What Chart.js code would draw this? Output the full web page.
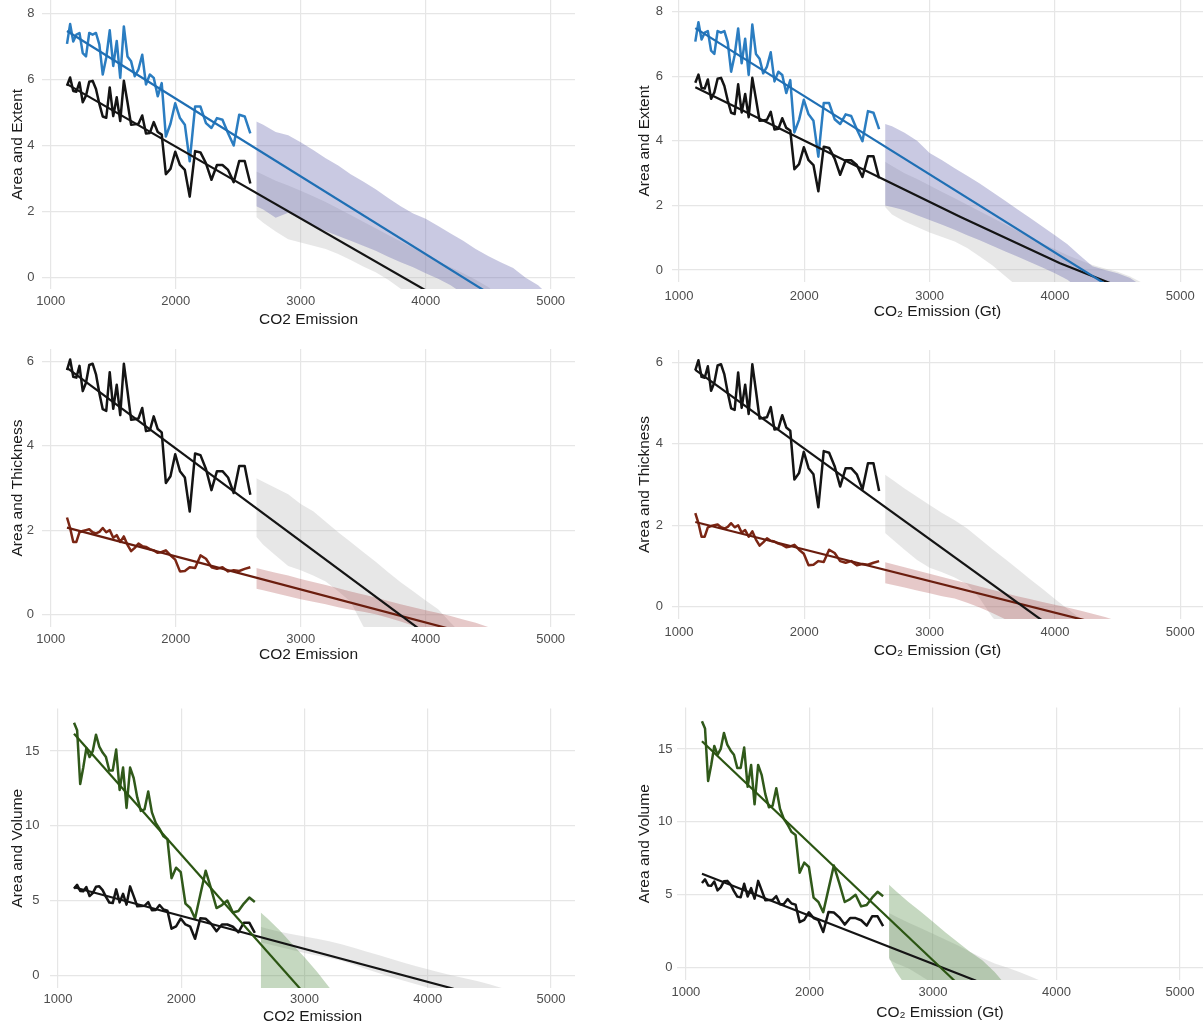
<!DOCTYPE html>
<html>
<head>
<meta charset="utf-8">
<script src="https://cdn.jsdelivr.net/npm/chart.js@4.4.1/dist/chart.umd.min.js"></script>
<style>
  body { margin: 0; background: #fff; width: 1203px; height: 1028px; position: relative; overflow: hidden; }
  canvas { position: absolute; }
</style>
</head>
<body>
<canvas id="p1" width="580" height="335" style="left:0;top:0"></canvas>
<canvas id="p2" width="583" height="330" style="left:620px;top:0"></canvas>
<canvas id="p3" width="580" height="335" style="left:0;top:340px"></canvas>
<canvas id="p4" width="583" height="330" style="left:620px;top:340px"></canvas>
<canvas id="p5" width="580" height="328" style="left:0;top:700px"></canvas>
<canvas id="p6" width="583" height="328" style="left:620px;top:700px"></canvas>
<script>
// observed series, one value per year 1979..2023, against cumulative CO2 emission
const emission = [1130, 1155, 1180, 1205, 1230, 1256, 1282, 1308, 1335, 1362, 1389, 1416, 1444, 1472, 1500,
  1528, 1556, 1585, 1614, 1643, 1672, 1702, 1732, 1762, 1793, 1824, 1856, 1888, 1921, 1958,
  1996, 2034, 2073, 2112, 2155, 2198, 2242, 2286, 2330, 2374, 2419, 2464, 2508, 2552, 2597];
const areaObs = [5.80, 6.05, 5.64, 5.62, 5.90, 5.30, 5.50, 5.92, 5.95, 5.70, 5.25, 4.87, 4.83, 5.75, 4.88,
  5.45, 4.73, 5.95, 5.30, 4.62, 4.63, 4.65, 4.90, 4.35, 4.37, 4.70, 4.40, 4.32, 3.12, 3.28,
  3.80, 3.40, 3.25, 2.44, 3.82, 3.78, 3.45, 2.95, 3.40, 3.40, 3.25, 2.88, 3.52, 3.52, 2.84];
const extentObs = [7.07, 7.67, 7.14, 7.35, 7.40, 6.79, 6.69, 7.40, 7.35, 7.40, 7.05, 6.14, 6.65, 7.48, 6.40,
  7.16, 6.04, 7.60, 6.69, 6.54, 6.09, 6.30, 6.74, 5.84, 6.14, 6.04, 5.48, 5.88, 4.26, 4.65,
  5.27, 4.82, 4.62, 3.51, 5.17, 5.17, 4.67, 4.52, 4.82, 4.77, 4.36, 3.99, 4.92, 4.87, 4.36];
const thicknessObs = [2.30, 2.05, 1.72, 1.72, 1.95, 1.98, 2.00, 2.02, 1.95, 1.92, 1.96, 2.05, 1.95, 2.00, 1.82,
  1.88, 1.72, 1.85, 1.65, 1.50, 1.58, 1.68, 1.62, 1.60, 1.55, 1.52, 1.46, 1.48, 1.52, 1.40,
  1.30, 1.02, 1.03, 1.12, 1.10, 1.40, 1.32, 1.12, 1.08, 1.12, 1.02, 1.05, 1.03, 1.08, 1.12];
const volumeObs = [16.9, 16.4, 12.8, 13.9, 15.2, 14.6, 15.0, 16.1, 15.3, 14.9, 14.6, 13.7, 13.7, 15.1, 12.4,
  13.9, 11.2, 13.9, 13.2, 11.9, 11.0, 11.1, 12.3, 10.9, 10.2, 9.8, 9.3, 9.1, 6.5, 7.2,
  6.9, 4.8, 4.5, 3.8, 5.4, 7.0, 5.8, 4.5, 4.7, 5.0, 4.2, 4.3, 4.8, 5.2, 4.9];

// fitted lines (end points)
const p1AreaFitX = [1130, 4023], p1AreaFitY = [5.85, -0.45];
const p1ExtentFitX = [1130, 4487], p1ExtentFitY = [7.46, -0.45];
const p2AreaFitX = [1130, 2589, 3243, 4041, 4470], p2AreaFitY = [5.66, 2.89, 1.65, 0.21, -0.45];
const p2ExtentFitX = [1130, 4410], p2ExtentFitY = [7.49, -0.45];
const p3AreaFitX = [1130, 3950], p3AreaFitY = [5.85, -0.35];
const p3ThickFitX = [1130, 4200], p3ThickFitY = [2.06, -0.35];
const p4AreaFitX = [1130, 3905], p4AreaFitY = [5.81, -0.35];
const p4ThickFitX = [1130, 4265], p4ThickFitY = [2.08, -0.35];
const p5VolFitX = [1130, 2965], p5VolFitY = [16.16, -0.9];
const p5AreaFitX = [1130, 4210], p5AreaFitY = [5.89, -0.9];
const p6VolFitX = [1130, 3175], p6VolFitY = [15.53, -0.9];
const p6AreaFitX = [1130, 3350], p6AreaFitY = [6.44, -0.9];

// projection ranges, sampled along bandX
const bandX = [2645, 2700, 2800, 2900, 3000, 3100, 3200, 3300, 3400, 3500, 3600, 3700, 3800,
  3900, 4000, 4100, 4200, 4300, 4400, 4500, 4600, 4700, 4800, 4900, 5000];
const p1ExtentHi = [4.72, 4.62, 4.40, 4.30, 4.09, 3.85, 3.60, 3.38, 3.12, 2.90, 2.66, 2.40, 2.15, 1.93, 1.77, 1.55, 1.32, 1.10, 0.85, 0.64, 0.45, 0.28, -0.02, -0.25, -0.6];
const p1ExtentLo = [2.15, 2.05, 1.80, 1.95, 1.75, 1.55, 1.40, 1.25, 1.10, 0.95, 0.80, 0.62, 0.45, 0.30, 0.12, -0.05, -0.25, -0.5, -0.8, -1, -1, -1, -1, -1, -1];
const p1AreaHi = [3.20, 3.10, 2.92, 2.78, 2.62, 2.45, 2.28, 2.08, 1.88, 1.68, 1.48, 1.28, 1.08, 0.88, 0.68, 0.48, 0.30, 0.12, -0.08, -0.30, -0.6];
const p1AreaLo = [1.82, 1.65, 1.38, 1.15, 1.05, 0.95, 0.85, 0.70, 0.52, 0.32, 0.15, -0.08, -0.35, -0.6, -1, -1, -1, -1, -1, -1, -1];
const p2ExtentHi = [4.52, 4.45, 4.25, 4.00, 3.62, 3.40, 3.15, 2.92, 2.68, 2.42, 2.15, 1.88, 1.62, 1.35, 1.08, 0.80, 0.45, 0.12, 0.00, -0.10, -0.25, -0.50];
const p2ExtentLo = [2.00, 1.95, 1.85, 1.70, 1.55, 1.40, 1.25, 1.08, 0.92, 0.75, 0.58, 0.42, 0.25, 0.08, -0.10, -0.30, -0.60, -1, -1, -1, -1, -1];
const p2AreaHi = [3.35, 3.22, 3.00, 2.82, 2.62, 2.42, 2.22, 2.02, 1.82, 1.62, 1.42, 1.22, 1.02, 0.82, 0.64, 0.46, 0.30, 0.16, 0.05, -0.05, -0.20, -0.40, -0.70];
const p2AreaLo = [1.95, 1.72, 1.50, 1.33, 1.16, 1.02, 0.88, 0.68, 0.42, 0.15, -0.18, -0.5, -1, -1, -1, -1, -1, -1, -1, -1, -1, -1, -1];
const p3AreaHi = [3.23, 3.15, 3.00, 2.85, 2.62, 2.45, 2.20, 1.95, 1.72, 1.48, 1.25, 1.00, 0.76, 0.55, 0.33, 0.12, -0.20, -0.50];
const p3AreaLo = [1.84, 1.65, 1.40, 1.15, 1.05, 0.92, 0.78, 0.55, 0.30, -0.28, -0.6, -1, -1, -1, -1, -1, -1, -1];
const p3ThickHi = [1.10, 1.06, 0.99, 0.92, 0.84, 0.77, 0.70, 0.62, 0.54, 0.47, 0.40, 0.32, 0.24, 0.17, 0.10, 0.03, -0.04, -0.12, -0.20, -0.30, -0.45];
const p3ThickLo = [0.61, 0.57, 0.50, 0.43, 0.36, 0.30, 0.24, 0.17, 0.11, 0.06, 0.00, -0.08, -0.17, -0.27, -0.40, -1, -1, -1, -1, -1, -1];
const p4AreaHi = [3.24, 3.12, 2.90, 2.70, 2.50, 2.30, 2.12, 1.92, 1.67, 1.42, 1.18, 0.93, 0.68, 0.44, 0.19, -0.05, -0.28, -0.55];
const p4AreaLo = [1.81, 1.66, 1.40, 1.15, 0.96, 0.85, 0.72, 0.55, 0.20, -0.25, -0.6, -1, -1, -1, -1, -1, -1, -1];
const p4ThickHi = [1.09, 1.05, 0.97, 0.89, 0.81, 0.73, 0.65, 0.58, 0.50, 0.42, 0.34, 0.26, 0.19, 0.12, 0.05, -0.02, -0.09, -0.17, -0.25, -0.35, -0.5];
const p4ThickLo = [0.58, 0.54, 0.47, 0.40, 0.33, 0.26, 0.20, 0.10, -0.02, -0.15, -0.30, -0.5, -1, -1, -1, -1, -1, -1, -1, -1, -1];
const p5VolHi = [4.20, 3.80, 3.00, 2.10, 1.20, 0.25, -0.80, -1.70];
const p5VolLo = [-1.5, -1.5, -1.5, -1.5, -1.5, -1.5, -1.5, -1.5];
const p5AreaHi = [3.24, 3.12, 2.92, 2.75, 2.60, 2.45, 2.28, 2.08, 1.85, 1.60, 1.35, 1.10, 0.85, 0.62, 0.40, 0.18, -0.02, -0.20, -0.38, -0.60, -0.85, -1.10];
const p5AreaLo = [2.20, 2.10, 1.90, 1.70, 1.50, 1.32, 1.15, 0.98, 0.70, 0.42, 0.15, -0.12, -0.35, -0.58, -0.82, -1.10, -1.5, -1.5, -1.5, -1.5, -1.5, -1.5];
const p6VolHi = [5.68, 5.25, 4.52, 3.85, 3.15, 2.42, 1.75, 1.08, 0.50, -0.30, -1.30];
const p6VolLo = [0.68, -0.25, -1.5, -1.5, -1.5, -1.5, -1.5, -1.5, -1.5, -1.5, -1.5];
const p6AreaHi = [3.74, 3.50, 3.10, 2.72, 2.32, 1.92, 1.53, 1.08, 0.66, 0.28, 0.00, -0.30, -0.65, -1.00];
const p6AreaLo = [0.55, 0.30, -0.05, -0.55, -1.10, -1.5, -1.5, -1.5, -1.5, -1.5, -1.5, -1.5, -1.5, -1.5];

const xTicks = [1000, 2000, 3000, 4000, 5000];
const yTicksExtent = [0, 2, 4, 6, 8];
const yTicksThickness = [0, 2, 4, 6];
const yTicksVolume = [0, 5, 10, 15];

const COLORS = {
  black: '#141414', blue: '#2b7dc1', blueFit: '#1f6fb4',
  brown: '#7b2614', brownFit: '#6a1d0e', green: '#30591a', greenFit: '#2b5512',
  grayFill: 'rgba(185,185,185,0.34)', purpleFill: 'rgba(105,105,175,0.36)',
  brownFill: 'rgba(165,60,60,0.28)', greenFill: 'rgba(75,135,60,0.32)',
  grid: '#e6e6e6', tick: '#4d4d4d', title: '#1a1a1a',
};
const FONT = '"Liberation Sans", Arial, Helvetica, sans-serif';
const X_TITLE_PLAIN = 'CO2 Emission';
const X_TITLE_GT = 'CO\u2082 Emission (Gt)';

function points(xs, ys) {
  return ys.map((y, i) => ({ x: xs[i], y }));
}

function line(xs, ys, color, width) {
  return { data: points(xs, ys), borderColor: color, borderWidth: width, pointRadius: 0, fill: false };
}

function band(lo, hi, color) {
  const xs = bandX.slice(0, hi.length);
  return [
    { data: points(xs, lo), borderWidth: 0, borderColor: 'rgba(0,0,0,0)', pointRadius: 0, fill: false },
    { data: points(xs, hi), borderWidth: 0, borderColor: 'rgba(0,0,0,0)', pointRadius: 0, fill: '-1', backgroundColor: color },
  ];
}

function fixedTicks(values) {
  return scale => { scale.ticks = values.map(value => ({ value })); };
}

function panel(id, p) {
  new Chart(document.getElementById(id), {
    type: 'line',
    data: { datasets: p.datasets },
    options: {
      responsive: false,
      animation: false,
      events: [],
      layout: { padding: { left: 0, right: p.padRight, top: p.padTop, bottom: 0 } },
      plugins: { legend: { display: false }, tooltip: { enabled: false } },
      elements: { line: { tension: 0, borderCapStyle: 'butt', borderJoinStyle: 'round' } },
      scales: {
        x: {
          type: 'linear', min: p.xMin, max: p.xMax,
          afterBuildTicks: fixedTicks(xTicks),
          afterFit: scale => {
            scale.height = p.xAxisH;
            scale.paddingLeft = 0;
            scale.paddingRight = 0;
          },
          grid: { color: COLORS.grid, lineWidth: 1.2, drawTicks: false },
          border: { display: false },
          ticks: { padding: p.xTickPad, color: COLORS.tick, font: { family: FONT, size: 13 }, maxRotation: 0,
            callback: value => String(value) },
          title: { display: true, text: p.xTitle, color: COLORS.title, font: { family: FONT, size: 15.5 },
            padding: { top: 0, bottom: p.xTitlePad } },
        },
        y: {
          type: 'linear', min: p.yMin, max: p.yMax,
          afterBuildTicks: fixedTicks(p.yTicks),
          afterFit: scale => {
            scale.width = p.yAxisW;
            scale.paddingTop = 0;
            scale.paddingBottom = 0;
          },
          grid: { color: COLORS.grid, lineWidth: 1.2, drawTicks: false },
          border: { display: false },
          ticks: { padding: p.yTickPad, color: COLORS.tick, font: { family: FONT, size: 13 },
            callback: value => String(value) },
          title: { display: true, text: p.yTitle, color: COLORS.title, font: { family: FONT, size: 15.5 },
            padding: { top: p.yTitlePad, bottom: 0 } },
        },
      },
    },
  });
}

// top row: area and extent
panel('p1', {
  padTop: 0, padRight: 5, yAxisW: 42, xAxisH: 46,
  xMin: 930, xMax: 5195, yMin: -0.36, yMax: 8.4, yTicks: yTicksExtent,
  xTickPad: 4.5, xTitlePad: 6, yTickPad: 7.5, yTitlePad: 8,
  xTitle: X_TITLE_PLAIN, yTitle: 'Area and Extent',
  datasets: [
    line(p1ExtentFitX, p1ExtentFitY, COLORS.blueFit, 2.2),
    line(p1AreaFitX, p1AreaFitY, COLORS.black, 2.2),
    line(emission, extentObs, COLORS.blue, 2.5),
    line(emission, areaObs, COLORS.black, 2.5),
    ...band(p1ExtentLo, p1ExtentHi, COLORS.purpleFill),
    ...band(p1AreaLo, p1AreaHi, COLORS.grayFill),
  ],
});
panel('p2', {
  padTop: 0, padRight: 0, yAxisW: 52, xAxisH: 48,
  xMin: 944, xMax: 5182, yMin: -0.37, yMax: 8.36, yTicks: yTicksExtent,
  xTickPad: 6.5, xTitlePad: 8.7, yTickPad: 9, yTitlePad: 15.7,
  xTitle: X_TITLE_GT, yTitle: 'Area and Extent',
  datasets: [
    line(p2ExtentFitX, p2ExtentFitY, COLORS.blueFit, 2.2),
    line(p2AreaFitX, p2AreaFitY, COLORS.black, 2.2),
    line(emission, extentObs, COLORS.blue, 2.5),
    line(emission, areaObs, COLORS.black, 2.5),
    ...band(p2ExtentLo, p2ExtentHi, COLORS.purpleFill),
    ...band(p2AreaLo, p2AreaHi, COLORS.grayFill),
  ],
});

// middle row: area and thickness
panel('p3', {
  padTop: 9, padRight: 5, yAxisW: 42, xAxisH: 48,
  xMin: 930, xMax: 5195, yMin: -0.3, yMax: 6.3, yTicks: yTicksThickness,
  xTickPad: 4.5, xTitlePad: 10.7, yTickPad: 8, yTitlePad: 8,
  xTitle: X_TITLE_PLAIN, yTitle: 'Area and Thickness',
  datasets: [
    line(p3AreaFitX, p3AreaFitY, COLORS.black, 2.2),
    line(p3ThickFitX, p3ThickFitY, COLORS.brownFit, 2.2),
    line(emission, areaObs, COLORS.black, 2.5),
    line(emission, thicknessObs, COLORS.brown, 2.5),
    ...band(p3ThickLo, p3ThickHi, COLORS.brownFill),
    ...band(p3AreaLo, p3AreaHi, COLORS.grayFill),
  ],
});
panel('p4', {
  padTop: 10, padRight: 0, yAxisW: 52, xAxisH: 51,
  xMin: 944, xMax: 5182, yMin: -0.3, yMax: 6.3, yTicks: yTicksThickness,
  xTickPad: 5.5, xTitlePad: 9.7, yTickPad: 9, yTitlePad: 15.7,
  xTitle: X_TITLE_GT, yTitle: 'Area and Thickness',
  datasets: [
    line(p4AreaFitX, p4AreaFitY, COLORS.black, 2.2),
    line(p4ThickFitX, p4ThickFitY, COLORS.brownFit, 2.2),
    line(emission, areaObs, COLORS.black, 2.5),
    line(emission, thicknessObs, COLORS.brown, 2.5),
    ...band(p4ThickLo, p4ThickHi, COLORS.brownFill),
    ...band(p4AreaLo, p4AreaHi, COLORS.grayFill),
  ],
});

// bottom row: area and volume
panel('p5', {
  padTop: 8.5, padRight: 5, yAxisW: 50, xAxisH: 40,
  xMin: 935, xMax: 5195, yMin: -0.85, yMax: 17.85, yTicks: yTicksVolume,
  xTickPad: 3.5, xTitlePad: 1.7, yTickPad: 10.5, yTitlePad: 8.7,
  xTitle: X_TITLE_PLAIN, yTitle: 'Area and Volume',
  datasets: [
    line(p5VolFitX, p5VolFitY, COLORS.greenFit, 2.2),
    line(p5AreaFitX, p5AreaFitY, COLORS.black, 2.2),
    line(emission, volumeObs, COLORS.green, 2.5),
    line(emission, areaObs, COLORS.black, 2.5),
    ...band(p5VolLo, p5VolHi, COLORS.greenFill),
    ...band(p5AreaLo, p5AreaHi, COLORS.grayFill),
  ],
});
panel('p6', {
  padTop: 7.4, padRight: 0, yAxisW: 57, xAxisH: 48,
  xMin: 928, xMax: 5187, yMin: -0.85, yMax: 17.85, yTicks: yTicksVolume,
  xTickPad: 4.5, xTitlePad: 5.7, yTickPad: 4.5, yTitlePad: 15.7,
  xTitle: X_TITLE_GT, yTitle: 'Area and Volume',
  datasets: [
    line(p6VolFitX, p6VolFitY, COLORS.greenFit, 2.2),
    line(p6AreaFitX, p6AreaFitY, COLORS.black, 2.2),
    line(emission, volumeObs, COLORS.green, 2.5),
    line(emission, areaObs, COLORS.black, 2.5),
    ...band(p6VolLo, p6VolHi, COLORS.greenFill),
    ...band(p6AreaLo, p6AreaHi, COLORS.grayFill),
  ],
});
</script>
</body>
</html>
